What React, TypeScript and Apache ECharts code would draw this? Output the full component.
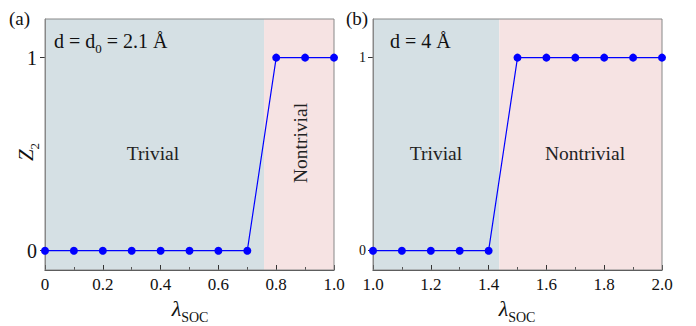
import React, { useEffect, useRef } from "react";
import * as echarts from "echarts";

const xA = [0, 0.1, 0.2, 0.3, 0.4, 0.5, 0.6, 0.7, 0.8, 0.9, 1.0];
const zA = [0, 0, 0, 0, 0, 0, 0, 0, 1, 1, 1];
const xB = [1.0, 1.1, 1.2, 1.3, 1.4, 1.5, 1.6, 1.7, 1.8, 1.9, 2.0];
const zB = [0, 0, 0, 0, 0, 1, 1, 1, 1, 1, 1];
const boundaryA = 0.758;
const boundaryB = 1.437;
const yTicks = [0, 1];

const SERIF = "Liberation Serif";
const BLUE_BG = "#d5e0e4";
const PINK_BG = "#f6e3e3";

export default function App() {
  const ref = useRef<HTMLDivElement>(null);
  useEffect(() => {
    const chart = echarts.init(ref.current!, null, { renderer: "svg" });
    const fmt = (v: number) => (v === 0 ? "0" : v.toFixed(1));
    const xAxisBase = (gi: number, min: number, max: number) => ({
      type: "value",
      gridIndex: gi,
      min,
      max,
      interval: 0.2,
      axisLine: { show: true, onZero: false, lineStyle: { color: "#333", width: 1 } },
      axisTick: { show: true, inside: true, length: 5, lineStyle: { color: "#333" } },
      minorTick: { show: true, splitNumber: 2, length: 3, lineStyle: { color: "#555" } },
      splitLine: { show: false },
      minorSplitLine: { show: false },
      axisLabel: { formatter: fmt, fontFamily: SERIF, fontSize: 17, color: "#111", margin: 6 },
    });
    const yAxisBase = (gi: number, fs: number, m: number) => ({
      type: "value",
      gridIndex: gi,
      min: -0.1,
      max: 1.2,
      axisLine: { show: true, lineStyle: { color: "#888", width: 1 } },
      axisTick: { show: true, inside: false, length: 5, customValues: yTicks, lineStyle: { color: "#333" } },
      axisLabel: { customValues: yTicks, fontFamily: SERIF, fontSize: fs, color: "#111", margin: m },
      splitLine: { show: false },
    });
    const seriesBase = (xi: number, xs: number[], ys: number[], b: number, min: number, max: number) => ({
      type: "line",
      xAxisIndex: xi,
      yAxisIndex: xi,
      data: xs.map((x, i) => [x, ys[i]]),
      symbol: "circle",
      symbolSize: 8,
      showSymbol: true,
      itemStyle: { color: "#0000ff" },
      lineStyle: { color: "#0000ff", width: 1.2 },
      markArea: {
        silent: true,
        z: -1,
        data: [
          [{ xAxis: min, itemStyle: { color: BLUE_BG } }, { xAxis: b }],
          [{ xAxis: b, itemStyle: { color: PINK_BG } }, { xAxis: max }],
        ],
      },
    });
    chart.setOption({
      animation: false,
      grid: [
        { left: 45, top: 19, width: 289, height: 251, show: true, borderColor: "#888", borderWidth: 1, backgroundColor: "transparent", z: 3 },
        { left: 373, top: 19, width: 289, height: 251, show: true, borderColor: "#888", borderWidth: 1, backgroundColor: "transparent", z: 3 },
      ],
      xAxis: [xAxisBase(0, 0, 1), xAxisBase(1, 1, 2)],
      yAxis: [yAxisBase(0, 20, 8), yAxisBase(1, 14, 7)],
      series: [
        seriesBase(0, xA, zA, boundaryA, 0, 1),
        seriesBase(1, xB, zB, boundaryB, 1, 2),
      ],
      graphic: [
        { type: "text", left: 9, top: 9, style: { text: "(a)", font: `19px ${SERIF}`, fill: "#111" } },
        { type: "text", left: 346, top: 9, style: { text: "(b)", font: `19px ${SERIF}`, fill: "#111" } },
        {
          type: "text", left: 54, top: 31, z: 10,
          style: {
            text: "{m|d = d}{s|0}{m| = 2.1 Å}",
            rich: {
              m: { fontFamily: SERIF, fontSize: 20, fill: "#111", verticalAlign: "bottom" },
              s: { fontFamily: SERIF, fontSize: 13, fill: "#111", verticalAlign: "bottom", padding: [0, 0, -4, 0] },
            },
          },
        },
        { type: "text", left: 390, top: 31, z: 10, style: { text: "d = 4 Å", font: `20px ${SERIF}`, fill: "#111" } },
        { type: "text", x: 153, y: 153, z: 10, style: { text: "Trivial", font: `19.5px ${SERIF}`, fill: "#222", align: "center", verticalAlign: "middle" } },
        { type: "text", x: 300, y: 143, rotation: Math.PI / 2, z: 10, style: { text: "Nontrivial", font: `19.5px ${SERIF}`, fill: "#222", align: "center", verticalAlign: "middle" } },
        { type: "text", x: 436, y: 153, z: 10, style: { text: "Trivial", font: `19.5px ${SERIF}`, fill: "#222", align: "center", verticalAlign: "middle" } },
        { type: "text", x: 585, y: 153, z: 10, style: { text: "Nontrivial", font: `19.5px ${SERIF}`, fill: "#222", align: "center", verticalAlign: "middle" } },
        {
          type: "text", x: 26, y: 152, rotation: Math.PI / 2, z: 10,
          style: {
            text: "{m|Z}{s|2}",
            align: "center", verticalAlign: "middle",
            rich: {
              m: { fontFamily: SERIF, fontSize: 21, fontStyle: "italic", fill: "#111", verticalAlign: "bottom" },
              s: { fontFamily: SERIF, fontSize: 13, fill: "#111", verticalAlign: "bottom", padding: [0, 0, -4, 0] },
            },
          },
        },
        ...[190, 517].map((cx) => ({
          type: "text", x: cx, y: 308, z: 10,
          style: {
            text: "{m|λ}{s|SOC}",
            align: "center", verticalAlign: "middle",
            rich: {
              m: { fontFamily: SERIF, fontSize: 22, fontStyle: "italic", fill: "#111", verticalAlign: "bottom" },
              s: { fontFamily: SERIF, fontSize: 14, fill: "#111", verticalAlign: "bottom", padding: [0, 0, -5, 0] },
            },
          },
        })),
      ],
    });
    return () => chart.dispose();
  }, []);
  return <div ref={ref} style={{ width: 696, height: 326, position: "absolute", left: 0, top: 0, background: "#fff" }} />;
}
